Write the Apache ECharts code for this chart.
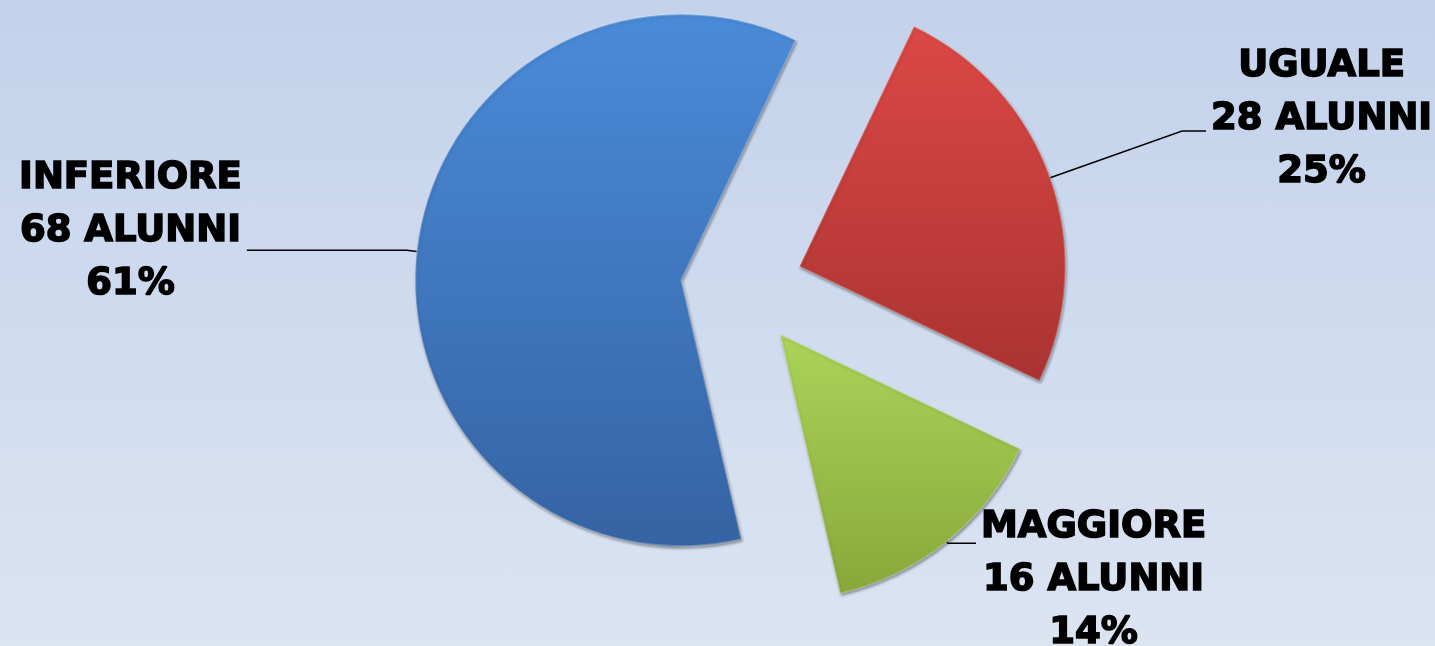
<!DOCTYPE html>
<html><head><meta charset="utf-8">
<script src="https://cdn.jsdelivr.net/npm/echarts@6/dist/echarts.min.js"></script>
<style>
html,body{margin:0;padding:0;width:1435px;height:646px;overflow:hidden;}
#c{width:1435px;height:646px;background:linear-gradient(180deg,#c3d2eb 0%,#d0dcef 55%,#dce4f2 100%);}
</style></head>
<body><div id="c"></div>
<script>
// ---- data ----
const categories = ['UGUALE', 'MAGGIORE', 'INFERIORE'];
const values = [28, 16, 68];
const unitLabel = 'ALUNNI';

// ---- styles (per slice) ----
const topColors = ['#dc4845', '#abd459', '#4a8bd9'];
const bottomColors = ['#a93331', '#87a83a', '#3563a3'];
const lineLengths = [140, 2, 10];
const lineLengths2 = [24, 28, 160];
const labelPads = [[0, 0, 24, 0], [74, 0, 0, 0], [0, 0, 38, 0]];

const chart = echarts.init(document.getElementById('c'), null, {renderer: 'canvas'});

const seriesData = categories.map((name, i) => ({
  name: name,
  value: values[i],
  selected: true,
  itemStyle: {
    color: {
      type: 'linear', x: 0, y: 0, x2: 0, y2: 1,
      colorStops: [
        {offset: 0, color: topColors[i]},
        {offset: 1, color: bottomColors[i]}
      ]
    }
  },
  label: { padding: labelPads[i] },
  labelLine: { length: lineLengths[i], length2: lineLengths2[i] }
}));

const textStyle = {
  fontFamily: 'DejaVu Sans', fontWeight: 'bold', fontSize: 37, lineHeight: 53,
  color: '#000', textBorderColor: '#000', textBorderWidth: 1.6
};

chart.setOption({
  backgroundColor: 'transparent',
  animation: false,
  series: [{
    type: 'pie',
    center: ['51.7%', '44.4%'],
    radius: 266,
    startAngle: 64.5,
    clockwise: true,
    percentPrecision: 0,
    avoidLabelOverlap: false,
    selectedMode: 'multiple',
    selectedOffset: 61,
    itemStyle: {
      borderColor: 'rgba(255,255,255,0.22)',
      borderWidth: 2,
      shadowBlur: 3,
      shadowColor: 'rgba(0,0,0,0.4)',
      shadowOffsetX: 1,
      shadowOffsetY: 2
    },
    emphasis: { disabled: true },
    label: Object.assign({
      show: true,
      position: 'outside',
      alignTo: 'none',
      formatter: '{t|{b}}\n{t|{c} ' + unitLabel + '}\n{t|{d}%}',
      rich: { t: Object.assign({ align: 'center' }, textStyle) }
    }, textStyle),
    labelLine: {
      show: true,
      lineStyle: { color: '#000', width: 1.5 }
    },
    data: seriesData
  }]
});
</script>
</body></html>
